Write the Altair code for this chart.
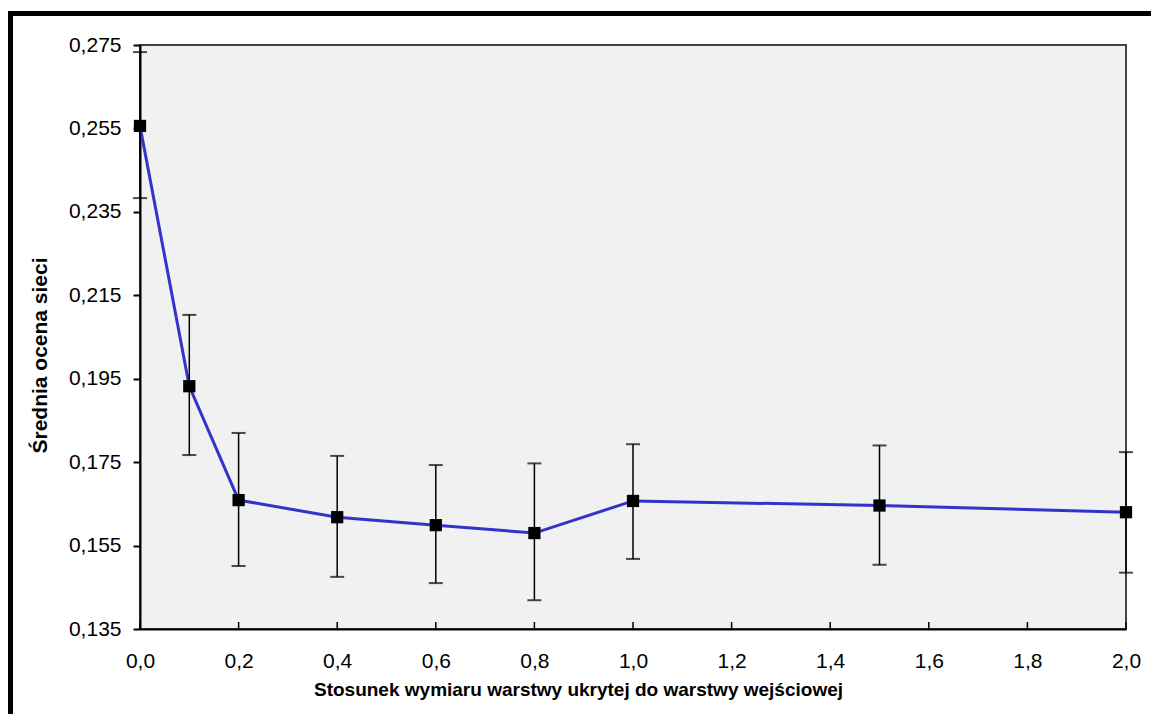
import altair as alt
import pandas as pd

ratio = [0.0, 0.1, 0.2, 0.4, 0.6, 0.8, 1.0, 1.5, 2.0]
mean_score = [0.2556, 0.1932, 0.1659, 0.1618, 0.1599, 0.1580, 0.1657, 0.1646, 0.1630]
err_low = [0.2383, 0.1767, 0.1501, 0.1475, 0.1460, 0.1419, 0.1518, 0.1504, 0.1485]
err_high = [0.2733, 0.2103, 0.1820, 0.1765, 0.1743, 0.1747, 0.1793, 0.1790, 0.1774]

x_ticks = [0.0, 0.2, 0.4, 0.6, 0.8, 1.0, 1.2, 1.4, 1.6, 1.8, 2.0]
y_ticks = [0.135, 0.155, 0.175, 0.195, 0.215, 0.235, 0.255, 0.275]

df = pd.DataFrame({"x": ratio, "y": mean_score, "lo": err_low, "hi": err_high})
ticks_df = pd.DataFrame({"x": x_ticks})

W, H = 986, 584
FONT = "Liberation Sans"

xscale = alt.Scale(domain=[0, 2.0], nice=False, zero=False)
yscale = alt.Scale(domain=[0.135, 0.275], nice=False, zero=False)

xaxis = alt.Axis(
    values=x_ticks,
    labelExpr="replace(format(datum.value, '.1f'), '.', ',')",
    ticks=False, grid=False, labelFlush=False,
    domainColor="black", domainWidth=2,
    labelFont=FONT, labelFontSize=21, labelColor="black", labelPadding=21,
    title="Stosunek wymiaru warstwy ukrytej do warstwy wejściowej",
    titleFont=FONT, titleFontSize=19, titleFontWeight="bold", titleColor="black",
    titlePadding=9, titleX=438,
)
yaxis = alt.Axis(
    values=y_ticks,
    labelExpr="replace(format(datum.value, '.3f'), '.', ',')",
    grid=False, tickSize=7, tickColor="black", tickWidth=2, labelFlush=False,
    domainColor="black", domainWidth=2,
    labelFont=FONT, labelFontSize=21, labelColor="black", labelPadding=12,
    title="Średnia ocena sieci",
    titleFont=FONT, titleFontSize=21, titleFontWeight="bold", titleColor="black",
    titlePadding=18, titleY=310,
)

base = alt.Chart(df)

bg = base.mark_point(opacity=0).encode(
    x=alt.X("x:Q", scale=xscale, axis=xaxis),
    y=alt.Y("y:Q", scale=yscale, axis=yaxis),
)

inner_ticks = alt.Chart(ticks_df).mark_rule(color="black", strokeWidth=1.5).encode(
    x=alt.X("x:Q", scale=xscale),
    y=alt.value(H - 7), y2=alt.value(H),
)

line = base.mark_line(color="#3333cc", strokeWidth=3).encode(
    x=alt.X("x:Q", scale=xscale), y=alt.Y("y:Q", scale=yscale)
)
bars = base.mark_rule(color="black", strokeWidth=1.5).encode(
    x=alt.X("x:Q", scale=xscale), y=alt.Y("lo:Q", scale=yscale), y2="hi:Q"
)
cap_lo = base.mark_tick(color="black", orient="horizontal", size=14, thickness=2).encode(
    x=alt.X("x:Q", scale=xscale), y=alt.Y("lo:Q", scale=yscale)
)
cap_hi = base.mark_tick(color="black", orient="horizontal", size=14, thickness=2).encode(
    x=alt.X("x:Q", scale=xscale), y=alt.Y("hi:Q", scale=yscale)
)
pts = base.mark_square(color="black", filled=True, opacity=1, size=150).encode(
    x=alt.X("x:Q", scale=xscale), y=alt.Y("y:Q", scale=yscale)
)

frame_left = alt.Chart(df).mark_rule(color="black", strokeWidth=5).encode(
    x=alt.value(-129.5), y=alt.value(-34), y2=alt.value(H + 100)
)
frame_top = alt.Chart(df).mark_rule(color="black", strokeWidth=5).encode(
    x=alt.value(-132), x2=alt.value(1020), y=alt.value(-31.5)
)

chart = alt.layer(
    bg, inner_ticks, line, bars, cap_lo, cap_hi, pts, frame_left, frame_top
).properties(
    width=W, height=H,
    autosize=alt.AutoSizeParams(type="none"),
    padding={"left": 132, "top": 37, "right": 25, "bottom": 85},
    background="white",
).configure_view(
    fill="#f1f1f1", stroke="#444444", strokeWidth=2
)

chart.save("out.html", embed_options={"renderer": "svg", "actions": False})
